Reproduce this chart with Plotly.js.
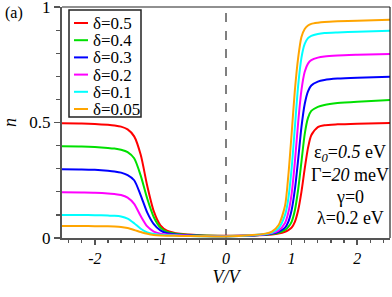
<!DOCTYPE html>
<html>
<head>
<meta charset="utf-8">
<script src="https://cdn.plot.ly/plotly-3.0.1.min.js"></script>
<style>html,body{margin:0;padding:0;background:#fff;}#chart{width:392px;height:297px;}</style>
</head>
<body>
<div id="chart"></div>
<script>
// ---- data ----
const V = [-2.5, -2.2, -2.0, -1.8, -1.7, -1.6, -1.5, -1.4, -1.3, -1.2, -1.1, -1.0, -0.9, -0.7, -0.4, 0,
           0.4, 0.6, 0.7, 0.8, 0.9, 0.95, 1.0, 1.05, 1.1, 1.15, 1.2, 1.25, 1.3, 1.4, 1.5, 1.7, 2.0, 2.5];

const n_d050 = [0.497, 0.496, 0.494, 0.490, 0.487, 0.482, 0.470, 0.440, 0.360, 0.225, 0.115, 0.055, 0.032, 0.018, 0.012, 0.010,
                0.011, 0.013, 0.015, 0.019, 0.027, 0.034, 0.045, 0.070, 0.120, 0.200, 0.300, 0.390, 0.445, 0.480, 0.488, 0.492, 0.495, 0.498];
const n_d040 = [0.397, 0.396, 0.394, 0.390, 0.387, 0.382, 0.372, 0.345, 0.270, 0.170, 0.090, 0.045, 0.026, 0.016, 0.011, 0.009,
                0.011, 0.014, 0.017, 0.023, 0.035, 0.048, 0.070, 0.120, 0.210, 0.330, 0.450, 0.520, 0.550, 0.568, 0.576, 0.584, 0.590, 0.597];
const n_d030 = [0.298, 0.297, 0.295, 0.291, 0.288, 0.283, 0.272, 0.250, 0.185, 0.110, 0.060, 0.033, 0.021, 0.014, 0.010, 0.008,
                0.011, 0.015, 0.019, 0.027, 0.045, 0.070, 0.120, 0.210, 0.340, 0.480, 0.580, 0.635, 0.660, 0.677, 0.684, 0.690, 0.694, 0.698];
const n_d020 = [0.198, 0.197, 0.196, 0.193, 0.190, 0.186, 0.175, 0.148, 0.095, 0.050, 0.028, 0.019, 0.015, 0.012, 0.009, 0.008,
                0.012, 0.016, 0.021, 0.032, 0.065, 0.110, 0.190, 0.330, 0.500, 0.640, 0.720, 0.755, 0.770, 0.781, 0.786, 0.790, 0.793, 0.797];
const n_d010 = [0.100, 0.100, 0.099, 0.097, 0.096, 0.093, 0.084, 0.064, 0.040, 0.024, 0.017, 0.014, 0.012, 0.010, 0.008, 0.007,
                0.012, 0.017, 0.024, 0.042, 0.100, 0.170, 0.300, 0.480, 0.660, 0.780, 0.840, 0.865, 0.875, 0.883, 0.887, 0.890, 0.893, 0.897];
const n_d005 = [0.052, 0.052, 0.051, 0.051, 0.050, 0.048, 0.043, 0.035, 0.026, 0.018, 0.013, 0.011, 0.010, 0.009, 0.008, 0.007,
                0.013, 0.019, 0.028, 0.055, 0.140, 0.270, 0.450, 0.640, 0.780, 0.870, 0.905, 0.920, 0.927, 0.932, 0.935, 0.938, 0.941, 0.945];

const seriesNames  = ['δ=0.5', 'δ=0.4', 'δ=0.3', 'δ=0.2', 'δ=0.1', 'δ=0.05'];
const seriesValues = [n_d050, n_d040, n_d030, n_d020, n_d010, n_d005];
const seriesColors = ['#ff0000', '#00e000', '#0000ff', '#ff00ff', '#00ffff', '#ffa500'];

const xTickVals = [-2, -1, 0, 1, 2];
const xTickText = ['-2', '-1', '0', '1', '2'];
const xMinorTicks = [-2.4, -2.2, -1.8, -1.6, -1.4, -1.2, -0.8, -0.6, -0.4, -0.2, 0.2, 0.4, 0.6, 0.8, 1.2, 1.4, 1.6, 1.8, 2.2, 2.4];
const yTickVals = [0, 0.5, 1];
const yTickText = ['0', '0.5', '1'];
const yMinorTicks = [0.1, 0.2, 0.3, 0.4, 0.6, 0.7, 0.8, 0.9];
const zeroBias = 0;

const paramLines = ['ε<sub><i>0</i></sub>=<i>0.5</i> eV', 'Γ=<i>20</i> meV', 'γ=0', 'λ=0.2 eV'];
const panelLabel = '(a)';

// ---- layout helpers (pixel -> paper) ----
const W = 392, H = 297;
const M = {l: 62, r: 2, t: 7, b: 59};
const PW = W - M.l - M.r, PH = H - M.t - M.b;
const px = x => (x - M.l) / PW;
const py = y => (H - M.b - y) / PH;

const FONT = 'Liberation Serif';
const AXC = '#555';
const XR = [-2.5, 2.5], YR = [0, 1];

const traces = seriesValues.map((vals, i) => ({
  x: V, y: vals, type: 'scatter', mode: 'lines', name: seriesNames[i],
  line: {color: seriesColors[i], width: 2, shape: 'spline', smoothing: 0.7},
  hoverinfo: 'skip'
}));

const shapes = [
  {type: 'line', xref: 'x', yref: 'paper', x0: zeroBias, x1: zeroBias, y0: 0, y1: 1,
   line: {color: 'black', width: 1, dash: 'dash'}, layer: 'below'},
  {type: 'line', xref: 'paper', yref: 'paper', x0: 0, x1: 1, y0: 1, y1: 1, line: {color: '#222', width: 1.2}},
  {type: 'line', xref: 'paper', yref: 'paper', x0: 1, x1: 1, y0: 0, y1: 1, line: {color: '#222', width: 1.2}},
  {type: 'rect', xref: 'paper', yref: 'paper', x0: px(69), x1: px(141), y0: py(117), y1: py(10),
   line: {color: '#222', width: 1.5}, fillcolor: 'white'}
];

const annotations = [];
const legTop = 23, legStep = 17.2;
seriesNames.forEach((nm, i) => {
  const yy = legTop + i * legStep;
  shapes.push({type: 'line', xref: 'paper', yref: 'paper', x0: px(74), x1: px(88), y0: py(yy), y1: py(yy),
               line: {color: seriesColors[i], width: 2}});
  annotations.push({xref: 'paper', yref: 'paper', x: px(91), y: py(yy + 0.5), xanchor: 'left', yanchor: 'middle',
                    text: nm, showarrow: false, font: {family: FONT, size: 17, color: 'black'}});
});

const paramY = [153, 175, 197, 218];
paramLines.forEach((t, i) => {
  annotations.push({xref: 'paper', yref: 'paper', x: px(350), y: py(paramY[i]), xanchor: 'center', yanchor: 'middle',
                    text: t, showarrow: false, font: {family: FONT, size: 18, color: 'black'}});
});

annotations.push({xref: 'paper', yref: 'paper', x: px(3), y: py(13), xanchor: 'left', yanchor: 'middle',
                  text: panelLabel, showarrow: false, font: {family: FONT, size: 16, color: 'black'}});

const layout = {
  width: W, height: H, margin: M,
  paper_bgcolor: 'white', plot_bgcolor: 'white',
  showlegend: false,
  font: {family: FONT, size: 17, color: 'black'},
  xaxis: {
    range: XR, tickmode: 'array', tickvals: xTickVals, ticktext: xTickText,
    ticks: 'outside', ticklen: 5, tickwidth: 1.5, tickcolor: AXC, ticklabeloverflow: 'allow',
    showline: true, linecolor: AXC, linewidth: 2, showgrid: false, zeroline: false,
    tickfont: {family: FONT, size: 16, style: 'italic', color: 'black'},
    minor: {tickmode: 'array', tickvals: xMinorTicks, ticks: 'outside', ticklen: 3, tickwidth: 1.2, tickcolor: AXC, showgrid: false},
    title: {text: 'V/V', font: {family: FONT, size: 18, style: 'italic', color: 'black'}, standoff: 2}
  },
  yaxis: {
    range: YR, tickmode: 'array', tickvals: yTickVals, ticktext: yTickText,
    ticks: 'outside', ticklen: 6, tickwidth: 1.5, tickcolor: AXC, ticklabeloverflow: 'allow',
    showline: true, linecolor: AXC, linewidth: 2, showgrid: false, zeroline: false,
    tickfont: {family: FONT, size: 17, color: 'black'},
    minor: {tickmode: 'array', tickvals: yMinorTicks, ticks: 'outside', ticklen: 4, tickwidth: 1.2, tickcolor: AXC, showgrid: false},
    title: {text: 'n', font: {family: FONT, size: 18, style: 'italic', color: 'black'}, standoff: 8}
  },
  shapes: shapes,
  annotations: annotations
};

Plotly.newPlot('chart', traces, layout, {staticPlot: true, displayModeBar: false});
</script>
</body>
</html>
